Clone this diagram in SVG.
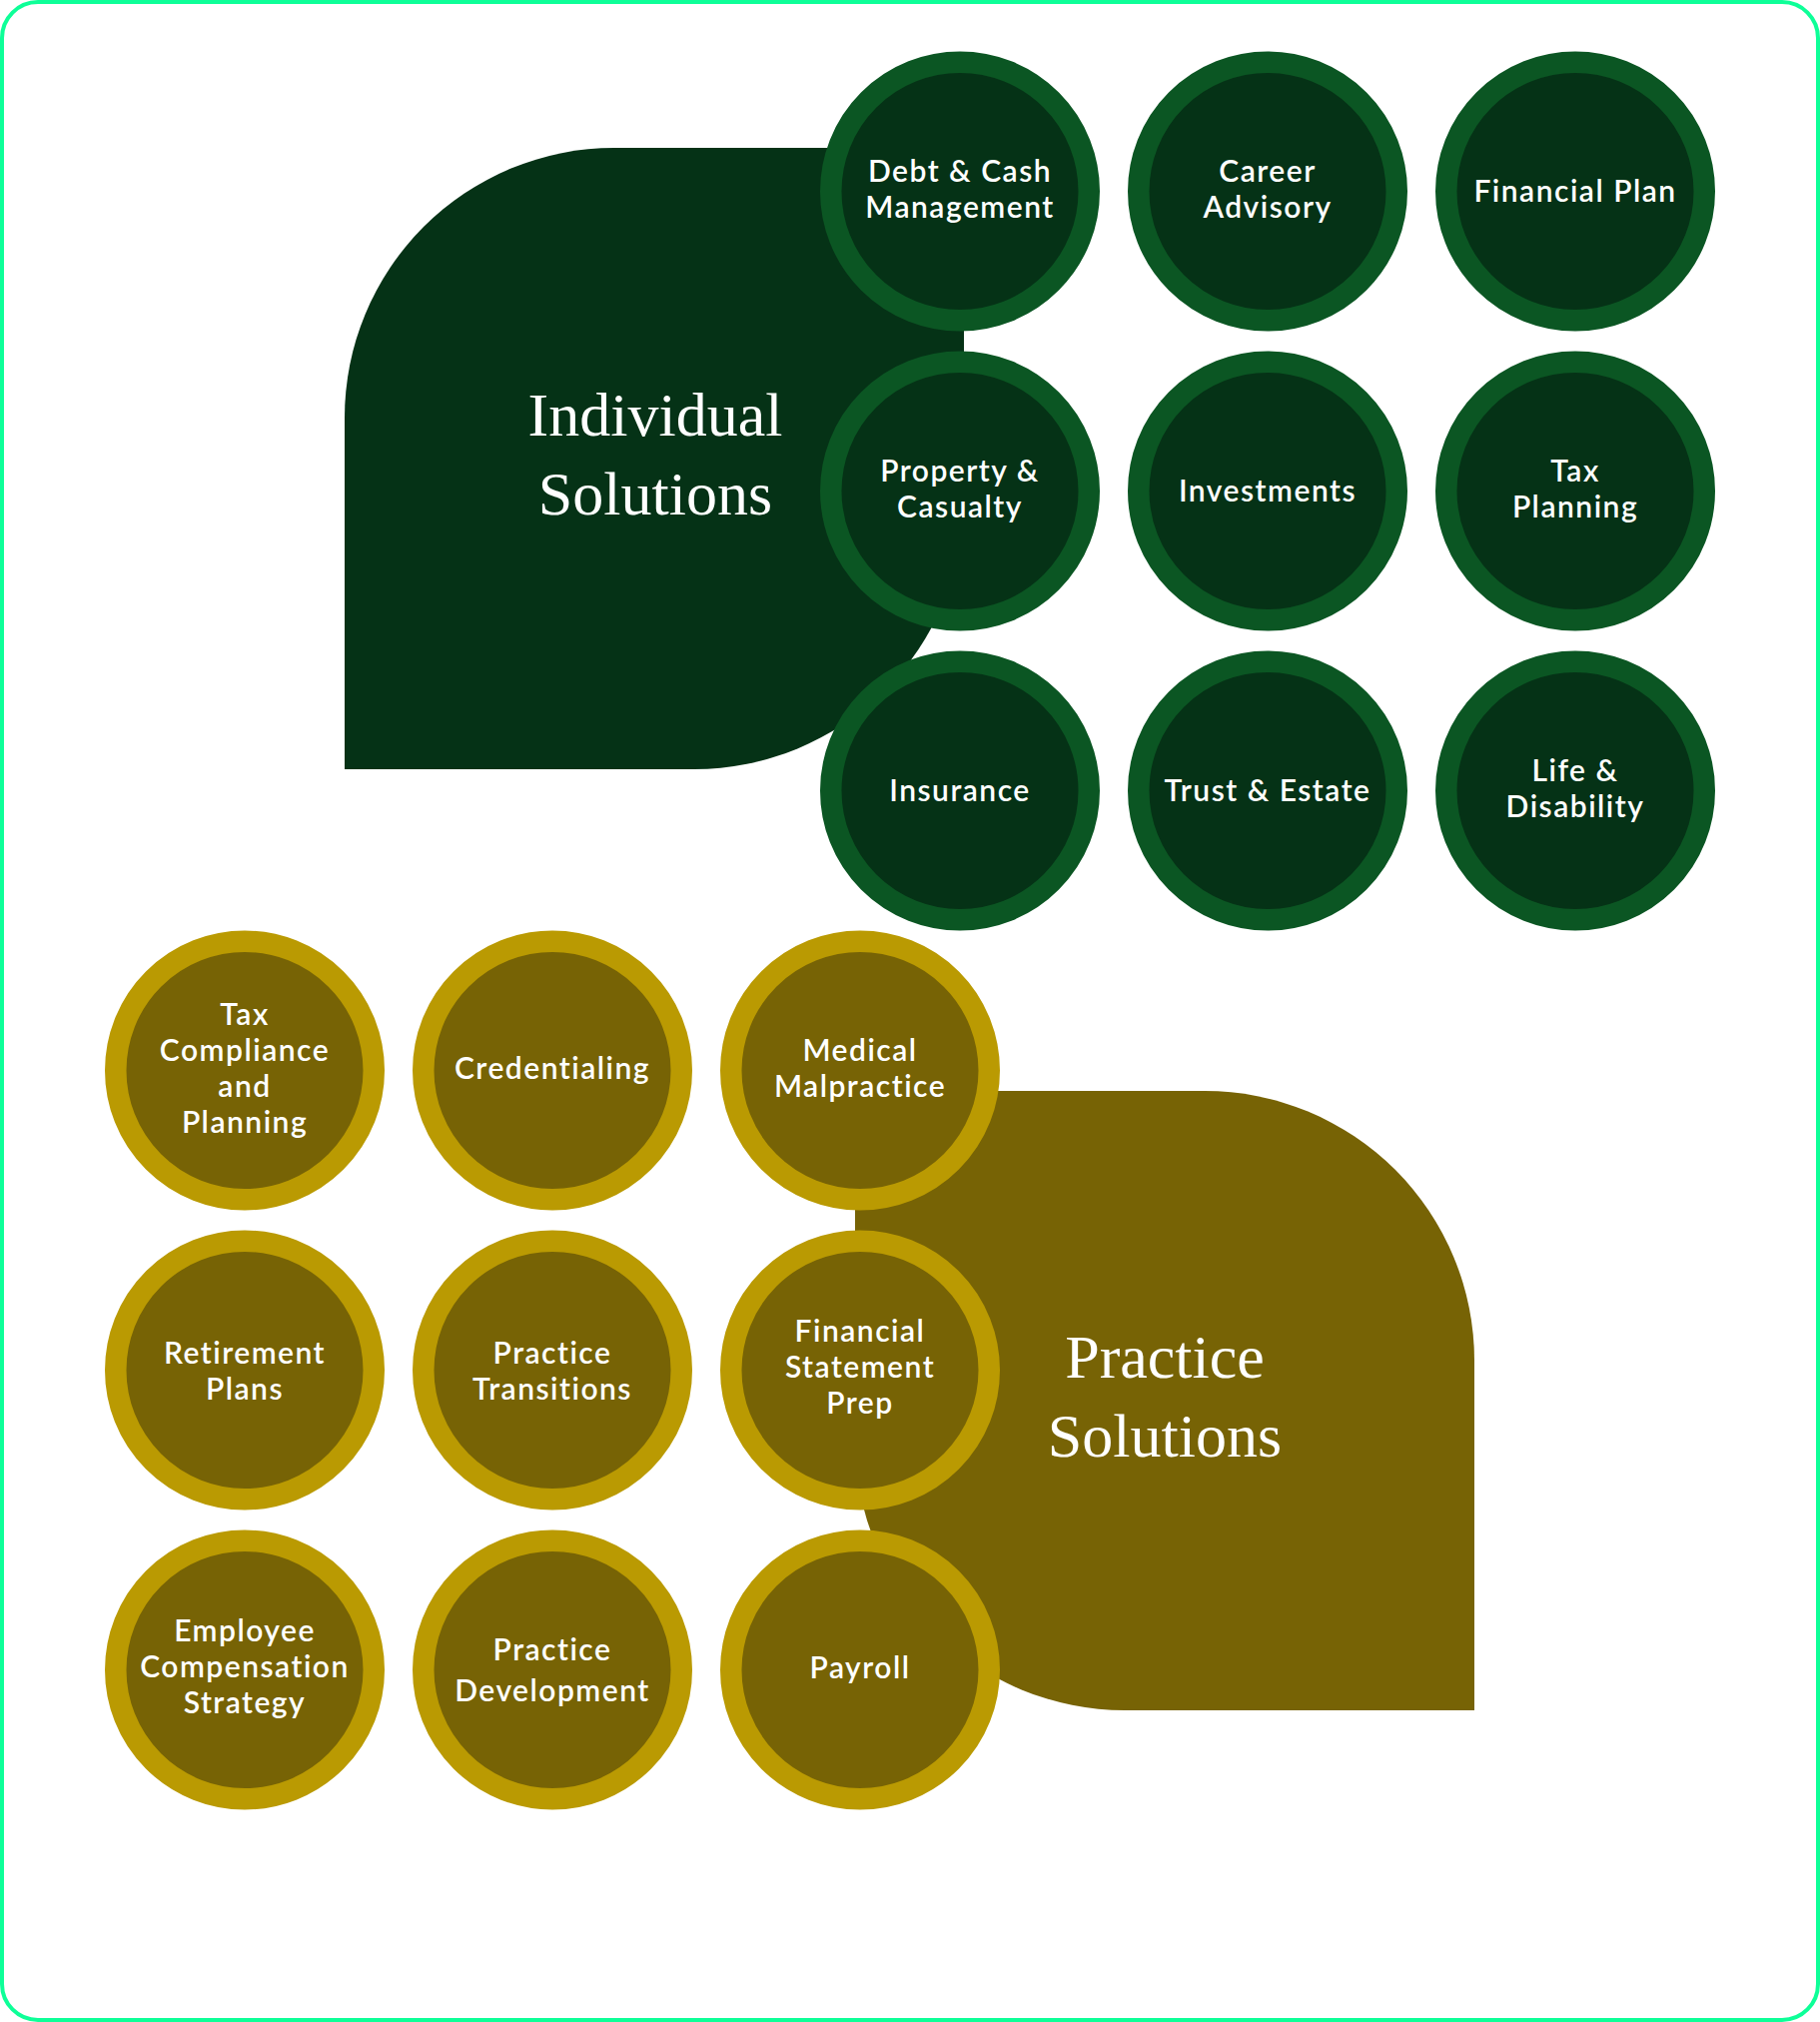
<svg xmlns="http://www.w3.org/2000/svg" width="1822" height="2024" viewBox="0 0 1822 2024">
<style>
.bg{fill:#ffffff}
.frame{fill:none;stroke:#0EFF98;stroke-width:4}
.gshape{fill:#053216}
.oshape{fill:#776305}
.gc{fill:#053216;stroke:#0B5623;stroke-width:21.5}
.oc{fill:#776305;stroke:#BA9A02;stroke-width:21.5}
.lbl{font-family:Lato,"Open Sans","Liberation Sans",sans-serif;font-weight:600;font-size:30px;letter-spacing:1.5px;fill:#ffffff;text-anchor:middle}
.title{font-family:"Liberation Serif","DejaVu Serif",serif;font-size:62px;fill:#ffffff;text-anchor:middle}
</style>
<rect class="bg" x="0" y="0" width="1822" height="2024"/>
<rect class="frame" x="2" y="2" width="1818" height="2020" rx="36" ry="36"/>
<g id="connectors"></g>
<g id="individual-solutions">
<path class="gshape" d="M345,770 L345,418 A270,270 0 0 1 615,148 L965,148 L965,500 A270,270 0 0 1 695,770 Z"/>
<text class="title" x="656" y="436">Individual</text>
<text class="title" x="656" y="515">Solutions</text>
</g>
<g id="practice-solutions">
<path class="oshape" d="M856,1092 L1206,1092 A270,270 0 0 1 1476,1362 L1476,1712 L1126,1712 A270,270 0 0 1 856,1442 Z"/>
<text class="title" x="1166" y="1379">Practice</text>
<text class="title" x="1166" y="1458">Solutions</text>
</g>
<g id="debt-cash">
<circle class="gc" cx="961" cy="191.5" r="129.25"/>
<text class="lbl" x="961" y="182">Debt &amp; Cash</text>
<text class="lbl" x="961" y="218">Management</text>
</g>
<g id="career-advisory">
<circle class="gc" cx="1269" cy="191.5" r="129.25"/>
<text class="lbl" x="1269" y="182">Career</text>
<text class="lbl" x="1269" y="218">Advisory</text>
</g>
<g id="financial-plan">
<circle class="gc" cx="1577" cy="191.5" r="129.25"/>
<text class="lbl" x="1577" y="202">Financial Plan</text>
</g>
<g id="property-casualty">
<circle class="gc" cx="961" cy="491.5" r="129.25"/>
<text class="lbl" x="961" y="482">Property &amp;</text>
<text class="lbl" x="961" y="518">Casualty</text>
</g>
<g id="investments">
<circle class="gc" cx="1269" cy="491.5" r="129.25"/>
<text class="lbl" x="1269" y="502">Investments</text>
</g>
<g id="tax-planning">
<circle class="gc" cx="1577" cy="491.5" r="129.25"/>
<text class="lbl" x="1577" y="482">Tax</text>
<text class="lbl" x="1577" y="518">Planning</text>
</g>
<g id="insurance">
<circle class="gc" cx="961" cy="791.5" r="129.25"/>
<text class="lbl" x="961" y="802">Insurance</text>
</g>
<g id="trust-estate">
<circle class="gc" cx="1269" cy="791.5" r="129.25"/>
<text class="lbl" x="1269" y="802">Trust &amp; Estate</text>
</g>
<g id="life-disability">
<circle class="gc" cx="1577" cy="791.5" r="129.25"/>
<text class="lbl" x="1577" y="782">Life &amp;</text>
<text class="lbl" x="1577" y="818">Disability</text>
</g>
<g id="tax-compliance">
<circle class="oc" cx="245" cy="1071.5" r="129.25"/>
<text class="lbl" x="245" y="1026">Tax</text>
<text class="lbl" x="245" y="1062">Compliance</text>
<text class="lbl" x="245" y="1098">and</text>
<text class="lbl" x="245" y="1134">Planning</text>
</g>
<g id="credentialing">
<circle class="oc" cx="553" cy="1071.5" r="129.25"/>
<text class="lbl" x="553" y="1080">Credentialing</text>
</g>
<g id="medical-malpractice">
<circle class="oc" cx="861" cy="1071.5" r="129.25"/>
<text class="lbl" x="861" y="1062">Medical</text>
<text class="lbl" x="861" y="1098">Malpractice</text>
</g>
<g id="retirement-plans">
<circle class="oc" cx="245" cy="1371.5" r="129.25"/>
<text class="lbl" x="245" y="1365">Retirement</text>
<text class="lbl" x="245" y="1401">Plans</text>
</g>
<g id="practice-transitions">
<circle class="oc" cx="553" cy="1371.5" r="129.25"/>
<text class="lbl" x="553" y="1365">Practice</text>
<text class="lbl" x="553" y="1401">Transitions</text>
</g>
<g id="financial-statement-prep">
<circle class="oc" cx="861" cy="1371.5" r="129.25"/>
<text class="lbl" x="861" y="1343">Financial</text>
<text class="lbl" x="861" y="1379">Statement</text>
<text class="lbl" x="861" y="1415">Prep</text>
</g>
<g id="employee-compensation">
<circle class="oc" cx="245" cy="1671.5" r="129.25"/>
<text class="lbl" x="245" y="1643">Employee</text>
<text class="lbl" x="245" y="1679">Compensation</text>
<text class="lbl" x="245" y="1715">Strategy</text>
</g>
<g id="practice-development">
<circle class="oc" cx="553" cy="1671.5" r="129.25"/>
<text class="lbl" x="553" y="1662">Practice</text>
<text class="lbl" x="553" y="1703">Development</text>
</g>
<g id="payroll">
<circle class="oc" cx="861" cy="1671.5" r="129.25"/>
<text class="lbl" x="861" y="1680">Payroll</text>
</g>
</svg>
